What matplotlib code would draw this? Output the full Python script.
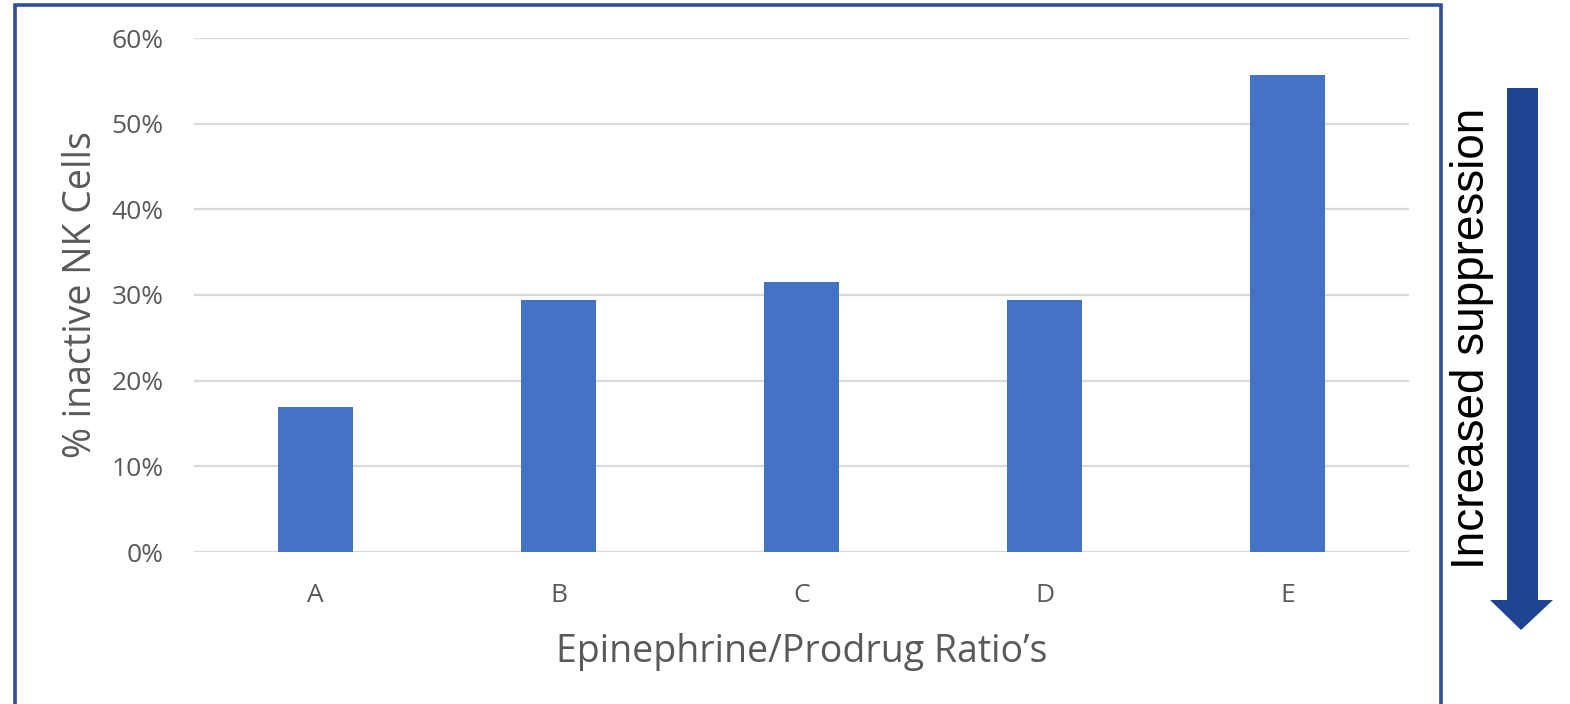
import matplotlib.pyplot as plt
import numpy as np
from matplotlib.patches import Rectangle, Polygon
from matplotlib.ticker import PercentFormatter

categories = ['A', 'B', 'C', 'D', 'E']
inactive_pct = [0.169, 0.294, 0.315, 0.294, 0.557]
y_ticks = [0.0, 0.1, 0.2, 0.3, 0.4, 0.5, 0.6]

plt.rcParams['font.family'] = ['Open Sans', 'DejaVu Sans']

W, H = 1570, 704
fig = plt.figure(figsize=(W / 100, H / 100), dpi=100)
ax = fig.add_axes([194 / W, 1 - 552 / H, 1215 / W, 514 / H])

x = np.arange(len(categories))
ax.bar(x, inactive_pct, width=0.31, color='#4472C4', zorder=3)

ax.set_xlim(-0.5, len(categories) - 0.5)
ax.set_ylim(0, 0.6)
ax.set_yticks(y_ticks)
ax.yaxis.set_major_formatter(PercentFormatter(1.0, decimals=0))
ax.set_xticks(x, categories)
ax.grid(axis='y', color='#D9D9D9', linewidth=1.6, zorder=0)
for s in ax.spines.values():
    s.set_visible(False)
ax.tick_params(length=0, labelcolor='#595959', labelsize=19)
ax.tick_params(axis='y', pad=22)
ax.tick_params(axis='x', pad=22)

ax.set_ylabel('% inactive NK Cells', fontsize=27, color='#595959', labelpad=8)
ax.set_xlabel('Epinephrine/Prodrug Ratio\u2019s', fontsize=27, color='#595959', labelpad=18)

# frame around the chart area
fig.patches.append(Rectangle((15 / W, -0.01), 1426 / W, 1.01 - 5 / H,
                             transform=fig.transFigure, fill=False,
                             edgecolor='#2F4F97', linewidth=2.6))

# downward arrow with label on the right
def fx(px):
    return px / W

def fy(py):
    return 1 - py / H

arrow = [(1507, 88), (1538, 88), (1538, 600), (1553, 600), (1521, 630),
         (1490, 600), (1507, 600)]
fig.patches.append(Polygon([(fx(a), fy(b)) for a, b in arrow], closed=True,
                           transform=fig.transFigure, facecolor='#1F4490',
                           edgecolor='none'))
fig.text(fx(1472), fy(338), 'Increased suppression', rotation=90,
         ha='center', va='center', fontsize=33, color='black',
         family=['Liberation Sans', 'DejaVu Sans'])

plt.savefig('out.png', dpi=100)
